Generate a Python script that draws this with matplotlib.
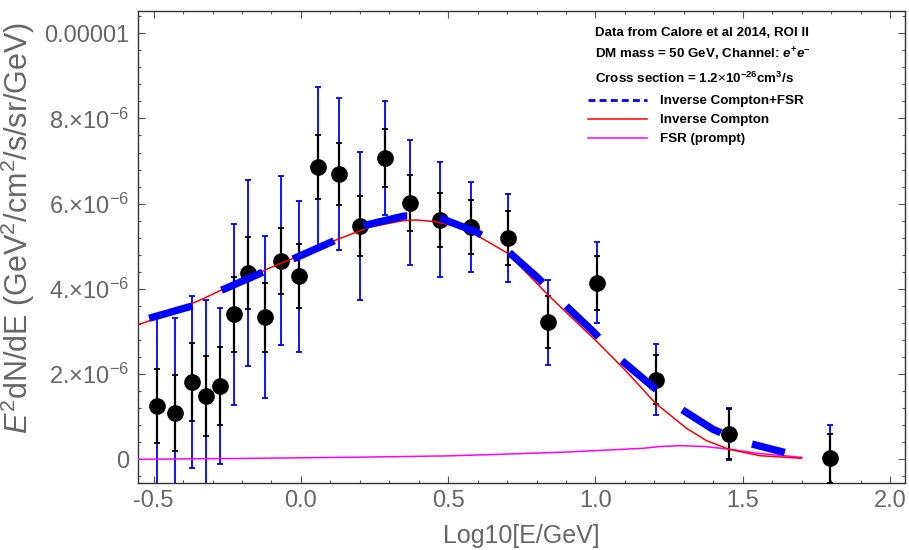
''' Gamma-ray spectrum from the GC excess compared with a 50 GeV DM model
    annihilating to e+e- (inverse Compton + prompt FSR).
'''
import matplotlib
matplotlib.use('Agg')
import matplotlib.pyplot as plt
from matplotlib.lines import Line2D
from matplotlib.ticker import FixedLocator, MultipleLocator
import numpy as np

# data points (Calore et al 2014, ROI II), in units of 1e-6 GeV/cm^2/s/sr
log_e = [-0.488, -0.427, -0.371, -0.322, -0.276, -0.227, -0.178, -0.123, -0.066, -0.006,
         0.059, 0.128, 0.201, 0.284, 0.372, 0.471, 0.579, 0.702, 0.839, 1.005,
         1.204, 1.454, 1.795]
flux = [1.25, 1.08, 1.82, 1.49, 1.72, 3.40, 4.37, 3.33, 4.66, 4.30,
        6.87, 6.70, 5.47, 7.07, 6.02, 5.62, 5.45, 5.19, 3.22, 4.14,
        1.87, 0.60, 0.02]
err_stat = [0.86, 0.89, 0.91, 0.94, 0.91, 0.88, 0.85, 0.81, 0.78, 0.76,
            0.75, 0.73, 0.70, 0.69, 0.66, 0.64, 0.63, 0.63, 0.61, 0.63,
            0.57, 0.59, 0.57]
err_tot = [2.07, 2.24, 2.02, 2.25, 1.83, 2.12, 2.19, 1.90, 1.98, 1.77,
           1.86, 1.79, 1.74, 1.33, 1.47, 1.35, 1.05, 1.03, 1.00, 0.95,
           0.83, 0.61, 0.78]

# model curves
ic_x = [-0.553, -0.447, -0.334, -0.221, -0.108, 0.006, 0.119, 0.232, 0.345, 0.39,
        0.458, 0.53, 0.594, 0.702, 0.839, 1.005, 1.106, 1.204, 1.309, 1.377,
        1.454, 1.558, 1.70]
ic_y = [3.153, 3.427, 3.763, 4.131, 4.484, 4.812, 5.148, 5.446, 5.60, 5.617,
        5.577, 5.46, 5.27, 4.836, 3.857, 2.761, 2.056, 1.315, 0.728, 0.437,
        0.235, 0.085, 0.023]

fsr_x = [-0.553, -0.2, 0.2, 0.5, 0.675, 0.9, 1.05, 1.161, 1.22, 1.287,
         1.37, 1.457, 1.55, 1.70]
fsr_y = [0.0, 0.02, 0.05, 0.08, 0.117, 0.17, 0.22, 0.258, 0.30, 0.32,
         0.30, 0.235, 0.14, 0.047]

tot_x = [-0.515, -0.368, -0.272, -0.133, -0.034, 0.107, 0.198, 0.35, 0.458, 0.594,
         0.692, 0.806, 0.885, 0.992, 1.072, 1.185, 1.27, 1.4, 1.496, 1.643]
tot_y = [3.31, 3.60, 3.96, 4.38, 4.68, 5.11, 5.46, 5.71, 5.70, 5.34,
         4.95, 4.25, 3.70, 3.00, 2.42, 1.76, 1.27, 0.70, 0.42, 0.16]

ytick_vals = [0, 2, 4, 6, 8, 10]
ytick_labels = ['0', r'2.$\times$10$^{-6}$', r'4.$\times$10$^{-6}$',
                r'6.$\times$10$^{-6}$', r'8.$\times$10$^{-6}$', '0.00001']

plt.rcParams['font.family'] = ['Liberation Sans', 'DejaVu Sans']
plt.rcParams['mathtext.fontset'] = 'custom'
plt.rcParams['mathtext.rm'] = 'Liberation Sans'
plt.rcParams['mathtext.it'] = 'Liberation Sans:italic'
plt.rcParams['mathtext.bf'] = 'Liberation Sans:bold'
plt.rcParams['mathtext.bfit'] = 'Liberation Sans:italic:bold'

GREY = '#666666'

fig = plt.figure(figsize=(9.09, 5.5), dpi=100)
ax = fig.add_axes([0.1518, 0.1224, 0.8438, 0.8582])

sc = 1e-6
x = np.array(log_e)
y = np.array(flux) * sc

ax.errorbar(x, y, yerr=np.array(err_tot) * sc, fmt='none', ecolor='blue',
            elinewidth=1.3, capsize=2, capthick=1.3, zorder=2)
ax.errorbar(x, y, yerr=np.array(err_stat) * sc, fmt='none', ecolor='black',
            elinewidth=1.6, capsize=2, capthick=1.3, zorder=3)
ax.plot(x, y, 'o', color='black', ms=11, zorder=4)

ax.plot(fsr_x, np.array(fsr_y) * sc, color='#ff00ff', lw=1.1, zorder=5)
ax.plot(ic_x, np.array(ic_y) * sc, color='red', lw=1.1, zorder=5)
ax.plot(tot_x, np.array(tot_y) * sc, color='blue', lw=5.3, dashes=(6.1, 4.5),
        dash_capstyle='butt', zorder=6)

ax.set_xlim(-0.553, 2.051)
ax.set_ylim(-0.549e-6, 1.053e-5)

ax.xaxis.set_major_locator(MultipleLocator(0.5))
ax.xaxis.set_minor_locator(MultipleLocator(0.1))
ax.xaxis.set_major_formatter(plt.FuncFormatter(lambda v, p: '%.1f' % v))
ax.yaxis.set_major_locator(FixedLocator([v * sc for v in ytick_vals]))
ax.set_yticklabels(ytick_labels)
ax.yaxis.set_minor_locator(MultipleLocator(0.4e-6))

ax.tick_params(which='both', direction='in', top=True, right=True,
               colors='#555555', labelcolor=GREY, labelsize=17, width=0.8)
ax.tick_params(which='major', length=5)
ax.tick_params(which='minor', length=2.5)
ax.tick_params(axis='x', which='major', pad=5)
ax.tick_params(axis='y', which='major', pad=6)
for s in ax.spines.values():
    s.set_color('#333333')
    s.set_linewidth(1.0)

ax.set_xlabel('Log10[E/GeV]', fontsize=18, color=GREY)
ax.xaxis.set_label_coords(0.5, -0.088)
ax.set_ylabel(r'$E^2$dN/dE (GeV$^2$/cm$^2$/s/sr/GeV)', fontsize=22, color=GREY)
ax.yaxis.set_label_coords(-0.132, 0.54)

# annotation block in the upper right
hdr = dict(transform=ax.transAxes, fontsize=9.6, fontweight='bold', va='center',
           ha='left')
ax.text(0.596, 0.953, 'Data from Calore et al 2014, ROI II', **hdr)
ax.text(0.596, 0.908, r'DM mass = 50 GeV, Channel: $\mathbfit{e}^{\mathbf{+}}\mathbfit{e}^{\mathbf{-}}$', **hdr)
ax.text(0.596, 0.857, r'Cross section = 1.2$\times$10$^{\mathbf{-26}}$cm$^{\mathbf{3}}$/s', **hdr)

handles = [Line2D([], [], color='blue', lw=2, dashes=(2.5, 1.5)),
           Line2D([], [], color='red', lw=1.1),
           Line2D([], [], color='#ff00ff', lw=1.1)]
labels = ['Inverse Compton+FSR', 'Inverse Compton', 'FSR (prompt)']
leg = ax.legend(handles, labels, loc='upper left', bbox_to_anchor=(0.575, 0.841),
                frameon=False, prop={'weight': 'bold', 'size': 9.6},
                handlelength=4.4, handletextpad=1.0, labelspacing=0.5,
                borderpad=0.2)

fig.savefig('out.png', dpi=100)
